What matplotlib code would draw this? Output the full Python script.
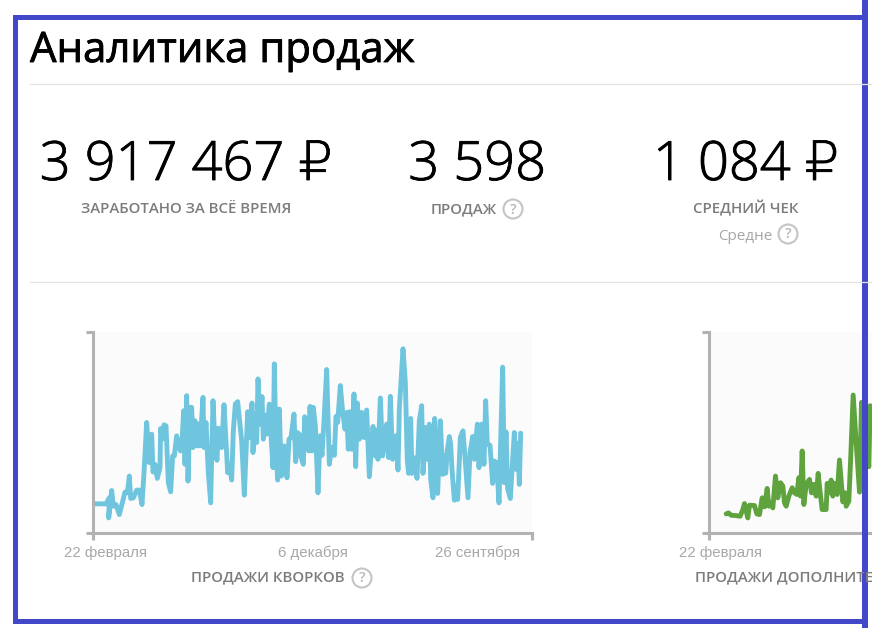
import matplotlib
matplotlib.use("Agg")
import matplotlib.pyplot as plt
import matplotlib.patheffects as pe
from matplotlib.patches import Circle, Rectangle

W, H = 872, 628
SANS = ["Open Sans", "DejaVu Sans"]

title = "Аналитика продаж"
kpi_values = ["3 917 467 ₽", "3 598", "1 084 ₽"]
kpi_labels = ["ЗАРАБОТАНО ЗА ВСЁ ВРЕМЯ", "ПРОДАЖ", "СРЕДНИЙ ЧЕК"]

days_kwork = [1,39,49,47,56,61,69,79,89,96,103,109,113,121,131,139,147,153,161,169,176,180,186,193,201,203,208,213,219,226,233,239,244,251,262,267,272,276,281,285,291,296,300,306,311,316,321,330,333,339,346,353,360,366,372,376,386,393,404,409,416,421,427,434,446,454,464,469,477,480,486,491,495,501,507,511,516,521,529,534,540,544,549,554,559,565,574,582,588,594,603,608,613,619,623,631,635,641,647,651,657,661,667,675,681,687,693,701,709,716,724,729,734,742,749,756,761,766,770,776,783,788,793,799,806,813,821,829,840,847,851,855,862,869,875,881,887,892,899,909,915,919,930,937,943,947,953,957,963,972,979,986,990,997,1002,1009,1013,1020,1025,1034,1042,1049,1054,1058,1063,1069,1073,1077,1084,1088,1094,1102,1110,1125,1131,1139,1144,1153,1158,1166,1173,1178,1183,1191,1199,1203,1211,1218,1229,1234,1239,1244,1252,1264,1269,1274,1279,1283]
sales_kwork = [87,87,105,45,127,80,85,55,95,122,120,170,103,105,128,128,85,180,330,210,295,182,205,163,195,312,280,323,320,150,123,230,230,290,245,270,365,205,410,155,375,375,255,335,260,325,260,405,255,330,180,90,395,260,217,313,255,383,180,205,158,305,385,392,275,113,362,285,388,240,355,270,460,325,407,280,352,295,385,290,195,505,250,158,370,170,260,165,280,285,355,213,300,295,230,205,347,310,245,378,245,375,320,120,290,232,335,488,205,255,232,348,330,440,360,310,360,250,362,250,415,198,388,280,360,285,367,168,318,230,307,220,403,230,270,325,225,408,220,290,188,370,550,450,215,178,342,178,225,163,335,380,178,315,220,325,160,105,342,118,335,175,230,178,248,288,265,190,98,140,100,285,305,105,240,288,220,325,195,325,205,395,265,262,148,215,210,90,495,150,302,132,103,300,190,268,145,298]

days_options = [53,60,68,83,95,103,108,113,118,123,138,145,153,161,168,176,181,185,193,201,208,216,223,228,233,241,251,258,265,271,276,281,286,293,303,309,316,323,329,335,341,353,356,363,368,373,378,386,393,403,410,413,421,426,434,443,453,459,469,481,485,493]
sales_options = [57,60,53,52,50,70,88,65,45,83,82,57,55,105,78,133,80,90,75,170,105,150,140,90,80,110,135,120,115,165,110,245,85,145,160,120,145,110,178,120,70,70,148,120,158,110,148,115,218,93,120,80,95,210,412,270,122,390,310,198,380,310]

x_tick_days = [36, 660, 1152]
x_tick_labels = ["22 февраля", "6 декабря", "26 сентября"]

fig = plt.figure(figsize=(W / 100, H / 100), dpi=100, facecolor="white")


def chart(left, days, sales, color, labels, days_pos, lw):
    ax = fig.add_axes([left / W, 1 - 533 / H, 439 / W, 201 / H], facecolor="#fbfbfb", zorder=2)
    ax.plot(days, sales, color=color, lw=lw, solid_joinstyle="round", solid_capstyle="round", clip_on=True)
    ax.set_xlim(0, 1317)
    ax.set_ylim(0, 600)
    for s in ("top", "right"):
        ax.spines[s].set_visible(False)
    for s in ("left", "bottom"):
        ax.spines[s].set_color("#b2b2b2")
        ax.spines[s].set_linewidth(2.2)
    ax.set_yticks([0, 600])
    ax.set_yticklabels([])
    ax.set_xticks([0, 1317])
    ax.set_xticklabels([])
    ax.tick_params(axis="both", which="major", length=5, width=2.2, color="#b2b2b2")
    ax.set_xticks(days_pos, minor=True)
    ax.set_xticklabels(labels, minor=True, family="Liberation Sans", fontsize=10.8, color="#a8a8a8")
    ax.tick_params(axis="x", which="minor", length=0, pad=9)
    return ax


chart(93, days_kwork, sales_kwork, "#6fc5de", x_tick_labels, x_tick_days, 3.5)
chart(708.5, days_options, sales_options, "#5fa33e", x_tick_labels[:1], x_tick_days[:1], 3.5)

ov = fig.add_axes([0, 0, 1, 1], zorder=5)
ov.set_xlim(0, W)
ov.set_ylim(H, 0)
ov.axis("off")
ov.patch.set_alpha(0)

thicken = [pe.withStroke(linewidth=0.6, foreground="black")]

ov.text(30, 62, title, family=SANS, fontsize=30.2, color="black", va="baseline", ha="left", path_effects=thicken)

for y in (84, 282):
    ov.plot([30, 872], [y, y], color="#e3e3e3", lw=0.9)

for cx, v in zip((186, 477, 746), kpi_values):
    ov.text(cx, 180, v, family=SANS, fontsize=39, weight="light", color="black", ha="center", va="baseline", path_effects=thicken)

for cx, lab in zip((186, 464, 746), kpi_labels):
    ov.text(cx, 213, lab, family=SANS, fontsize=10.85, weight="semibold", color="#7c7c7c", ha="center", va="baseline")

ov.text(772, 240, "Средне", family=SANS, fontsize=11, color="#a6a6a6", ha="right", va="baseline")
ov.text(191, 581, "ПРОДАЖИ КВОРКОВ", family=SANS, fontsize=10.85, weight="semibold", color="#7c7c7c", ha="left", va="baseline")
ov.text(695, 581, "ПРОДАЖИ ДОПОЛНИТЕ", family=SANS, fontsize=10.85, weight="semibold", color="#7c7c7c", ha="left", va="baseline")

for cx, cy in ((513, 209), (788, 234), (362, 578)):
    ov.add_patch(Circle((cx, cy), 9.5, fill=False, ec="#c4c4c4", lw=1.5))
    ov.text(cx, cy + 0.5, "?", family=SANS, fontsize=10.5, weight="semibold", color="#b8b8b8", ha="center", va="center")

BORDER = "#4348c8"
ov.add_patch(Rectangle((13, 15), 5, 609, fc=BORDER, ec="none"))
ov.add_patch(Rectangle((13, 15), 850, 5, fc=BORDER, ec="none"))
ov.add_patch(Rectangle((13, 619), 850, 5, fc=BORDER, ec="none"))
ov.add_patch(Rectangle((862, 0), 6, 628, fc=BORDER, ec="none"))

fig.savefig("out.png", dpi=100)
